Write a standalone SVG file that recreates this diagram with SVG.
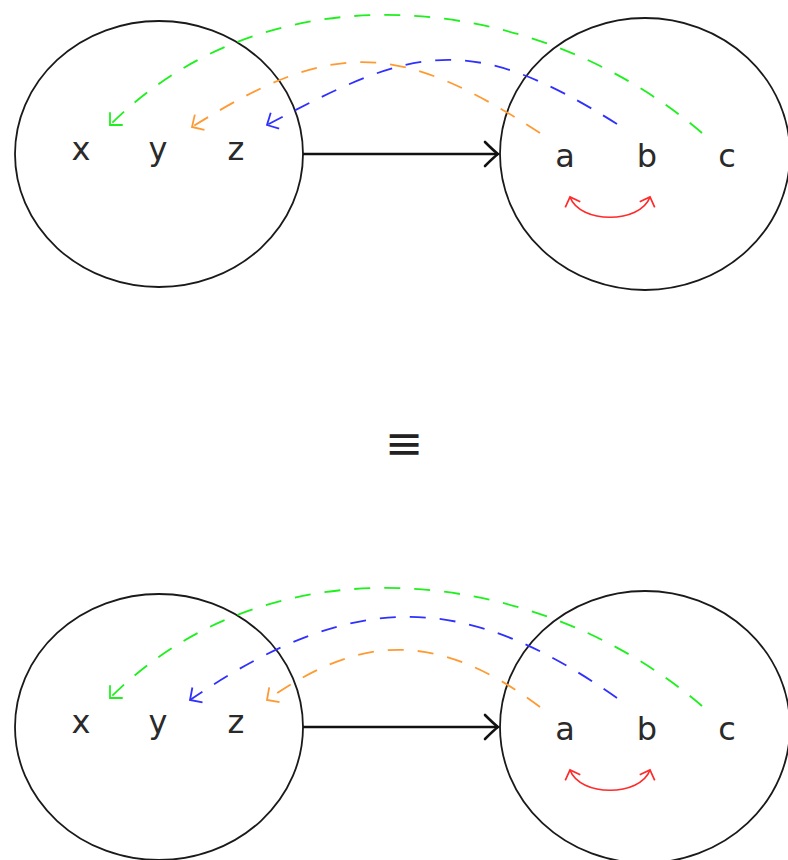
<svg xmlns="http://www.w3.org/2000/svg" width="788" height="860" viewBox="0 0 788 860">
<style>
.set{fill:none;stroke:#1a1a1a;stroke-width:1.8}
.lbl{font-family:"DejaVu Sans",sans-serif;font-size:32px;fill:#2a2a2a;text-anchor:middle}
.main{fill:none;stroke:#111;stroke-width:2.6}
.d{fill:none;stroke-width:1.8;stroke-dasharray:16 14}
.g{stroke:#1ef01e}
.o{stroke:#ff9a33}
.b{stroke:#3030ff}
.r{fill:none;stroke:#ff2a2a;stroke-width:1.7}
</style>
<defs>
<marker id="mk" markerUnits="userSpaceOnUse" orient="auto" overflow="visible" refX="0" refY="0" markerWidth="1" markerHeight="1">
<path d="M -13 -12 Q -4 -3 0 0 Q -4 3 -13 12" fill="none" stroke="#111" stroke-width="2.6" stroke-linecap="round"/>
</marker>
<marker id="mg" markerUnits="userSpaceOnUse" orient="auto" overflow="visible" refX="0" refY="0" markerWidth="1" markerHeight="1">
<path d="M -9 -9 Q -2 -2 0 0 Q -2 2 -9 9" fill="none" stroke="#1ef01e" stroke-width="1.8"/>
</marker>
<marker id="mo" markerUnits="userSpaceOnUse" orient="auto" overflow="visible" refX="0" refY="0" markerWidth="1" markerHeight="1">
<path d="M -9 -9 Q -2 -2 0 0 Q -2 2 -9 9" fill="none" stroke="#ff9a33" stroke-width="1.8"/>
</marker>
<marker id="mb" markerUnits="userSpaceOnUse" orient="auto" overflow="visible" refX="0" refY="0" markerWidth="1" markerHeight="1">
<path d="M -9 -9 Q -2 -2 0 0 Q -2 2 -9 9" fill="none" stroke="#3030ff" stroke-width="1.8"/>
</marker>
<marker id="mr" markerUnits="userSpaceOnUse" orient="auto-start-reverse" overflow="visible" refX="0" refY="0" markerWidth="1" markerHeight="1">
<path d="M -8 -8 Q -2 -2 0 0 Q -2 2 -8 8" fill="none" stroke="#ff2a2a" stroke-width="1.7"/>
</marker>
</defs>

<g id="top">
<g id="X1"><ellipse class="set" cx="159" cy="154" rx="144" ry="133"/>
<text class="lbl" x="81" y="160">x</text><text class="lbl" x="158" y="160">y</text><text class="lbl" x="236" y="160">z</text></g>
<g id="Y1"><ellipse class="set" cx="645" cy="154" rx="145" ry="136"/>
<text class="lbl" x="565" y="167">a</text><text class="lbl" x="647" y="167">b</text><text class="lbl" x="727" y="167">c</text></g>
<g id="edges1">
<line class="main" x1="303" y1="154" x2="498" y2="154" marker-end="url(#mk)"/>
<path class="d g" d="M 702 133 C 539 -7, 273 -38, 110 125" marker-end="url(#mg)"/>
<path class="d o" d="M 540 133 C 398 41, 334 38, 192 127" marker-end="url(#mo)"/>
<path class="d b" d="M 617 124 C 466 29, 412 48, 267 125" marker-end="url(#mb)"/>
<path class="r" d="M 570 197 C 580 224, 640 224, 650 197" marker-start="url(#mr)" marker-end="url(#mr)"/>
</g>
</g>

<g id="equiv"><text x="404" y="459" style="font-family:'DejaVu Sans',sans-serif;font-size:46px;fill:#222;text-anchor:middle">≡</text></g>

<g id="bottom" transform="translate(0,573)">
<g id="X2"><ellipse class="set" cx="159" cy="154" rx="144" ry="133"/>
<text class="lbl" x="81" y="160">x</text><text class="lbl" x="158" y="160">y</text><text class="lbl" x="236" y="160">z</text></g>
<g id="Y2"><ellipse class="set" cx="645" cy="154" rx="145" ry="136"/>
<text class="lbl" x="565" y="167">a</text><text class="lbl" x="647" y="167">b</text><text class="lbl" x="727" y="167">c</text></g>
<g id="edges2">
<line class="main" x1="303" y1="154" x2="498" y2="154" marker-end="url(#mk)"/>
<path class="d g" d="M 702 133 C 539 -7, 273 -38, 110 125" marker-end="url(#mg)"/>
<path class="d b" d="M 617 125 C 467 20, 357 13, 190 127" marker-end="url(#mb)"/>
<path class="d o" d="M 540 134 C 431 52, 354 66, 267 127" marker-end="url(#mo)"/>
<path class="r" d="M 570 197 C 580 224, 640 224, 650 197" marker-start="url(#mr)" marker-end="url(#mr)"/>
</g>
</g>
</svg>
